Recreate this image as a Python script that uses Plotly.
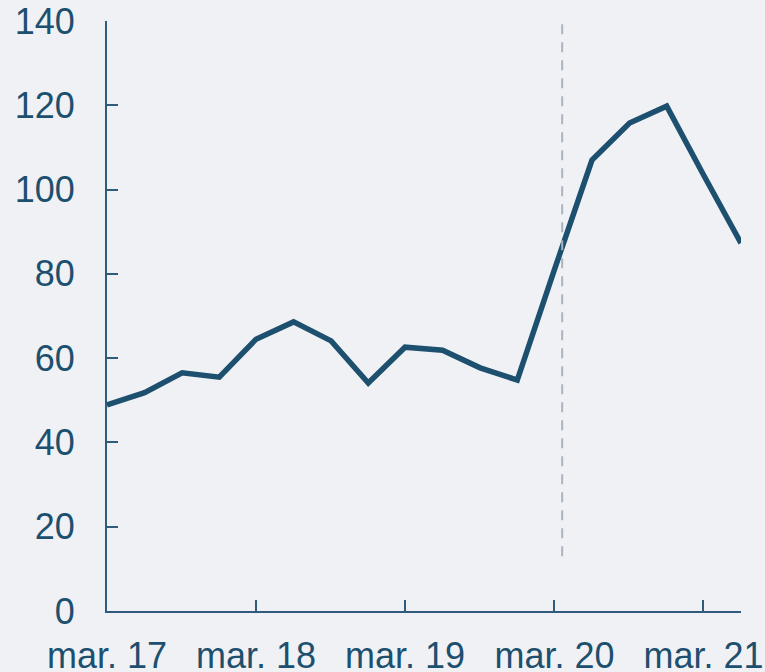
import plotly.graph_objects as go

dates = ["2017-03-01", "2017-06-01", "2017-09-01", "2017-12-01",
         "2018-03-01", "2018-06-01", "2018-09-01", "2018-12-01",
         "2019-03-01", "2019-06-01", "2019-09-01", "2019-12-01",
         "2020-03-01", "2020-06-01", "2020-09-01", "2020-12-01",
         "2021-03-01", "2021-06-01"]
values = [48.9, 51.8, 56.5, 55.5, 64.5, 68.6, 64.1, 54.1, 62.6, 61.9,
          57.7, 54.8, 81.0, 107.0, 115.8, 119.8, 103.5, 87.3]
tick_vals = ["2017-03-01", "2018-03-01", "2019-03-01", "2020-03-01", "2021-03-01"]
tick_text = ["mar. 17", "mar. 18", "mar. 19", "mar. 20", "mar. 21"]
y_ticks = [0, 20, 40, 60, 80, 100, 120, 140]
event_date = "2020-03-20"
event_range = [13, 140]

line_col = "#1d4f6e"
axis_col = "#2f5c7c"
bg = "#eff1f4"

fig = go.Figure()
fig.add_trace(go.Scatter(x=dates, y=values, mode="lines",
                         line=dict(color=line_col, width=5.5), hoverinfo="x+y"))
fig.add_shape(type="line", xref="x", yref="y", x0=event_date, x1=event_date,
              y0=event_range[0], y1=event_range[1],
              line=dict(color="#aab4c0", width=2, dash="10px,8px"), layer="above")

font = dict(family="Liberation Sans, Arial, sans-serif", size=36, color=line_col)
fig.update_layout(
    width=765, height=672,
    margin=dict(l=107, r=24, t=21, b=61, autoexpand=False),
    paper_bgcolor=bg, plot_bgcolor=bg,
    showlegend=False, font=font,
)
fig.update_xaxes(type="date", range=[dates[0], dates[-1]],
                 tickvals=tick_vals, ticktext=tick_text,
                 showgrid=False, zeroline=False,
                 showline=True, linecolor=axis_col, linewidth=2,
                 ticks="inside", ticklen=11, tickwidth=2, tickcolor=axis_col,
                 ticklabelstandoff=12, automargin=False, tickfont=font)
fig.update_yaxes(range=[0, 140], tickvals=y_ticks,
                 showgrid=False, zeroline=False,
                 showline=True, linecolor=axis_col, linewidth=2,
                 ticks="inside", ticklen=11, tickwidth=2, tickcolor=axis_col,
                 ticklabelstandoff=23, automargin=False, tickfont=font)
fig.write_html("out.html", config={"displayModeBar": False},
               post_script="document.body.style.margin='0';document.body.style.background='%s';" % bg)
